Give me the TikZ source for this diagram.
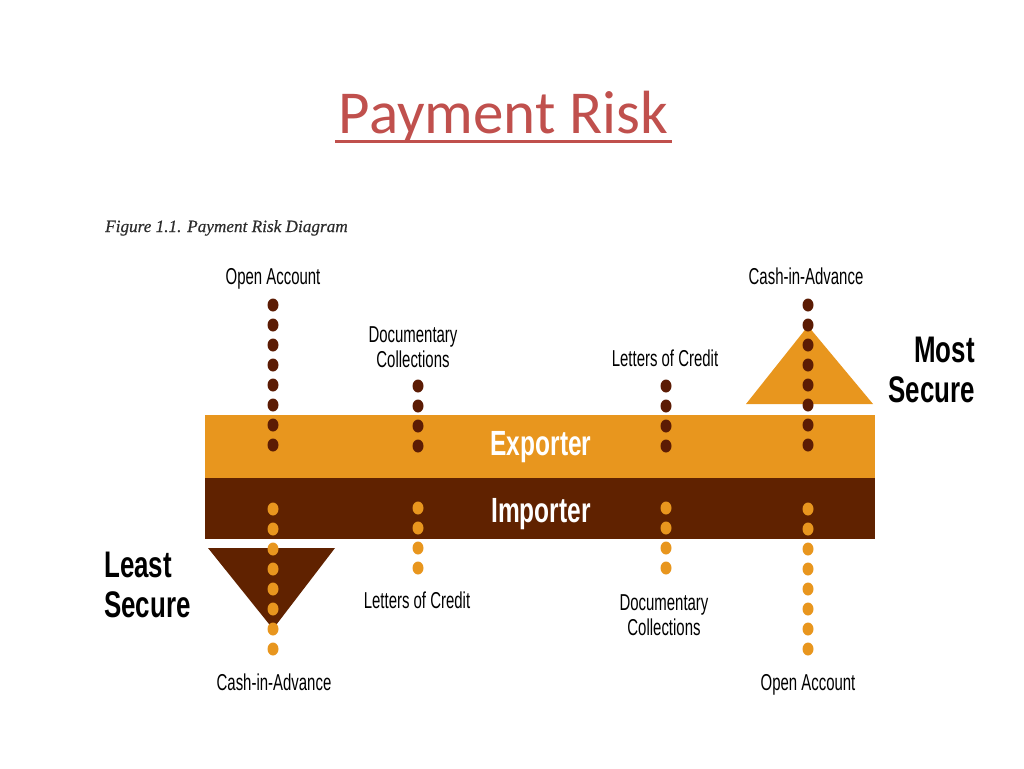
\documentclass[tikz,border=0pt]{standalone}
\usepackage{fontspec}
\setmainfont{Liberation Sans}
\newfontfamily\titlefont{Carlito}
\newfontfamily\capfont[FakeBold=0.5]{Liberation Serif}
\newfontfamily\condfont[FakeStretch=0.65]{Liberation Sans}
\newfontfamily\condbold[FakeStretch=0.7]{Liberation Sans}
\definecolor{orng}{RGB}{232,150,30}
\definecolor{brwn}{RGB}{96,34,0}
\definecolor{dotbr}{RGB}{92,28,4}
\definecolor{titlered}{RGB}{192,80,77}
\definecolor{capgray}{RGB}{45,45,45}
\tikzset{
  lbl/.style={inner sep=0pt, anchor=base, align=center, font=\condfont\fontsize{23}{25}\selectfont, text=black},
  big/.style={inner sep=0pt, font=\condbold\bfseries\fontsize{37}{40}\selectfont, text=black},
  bartext/.style={inner sep=0pt, anchor=base, font=\condbold\bfseries\fontsize{35}{40}\selectfont, text=white},
  topdot/.style={fill=dotbr},
  botdot/.style={fill=orng}
}
\begin{document}
\begin{tikzpicture}[x=1pt,y=-1pt]
\useasboundingbox (0,0) rectangle (1024,768);
% title
\node[inner sep=0pt, anchor=base, text=titlered, font=\titlefont\fontsize{61}{70}\selectfont] (title) at (503.5,133) {Payment Risk};
\fill[titlered] (335,139.5) rectangle (672,142.5);
% caption
\node[inner sep=0pt, anchor=base west, text=capgray, font=\capfont\itshape\fontsize{17.2}{20}\selectfont] (cap) at (105,232) {Figure 1.1. Payment Risk Diagram};
% bars
\fill[orng] (205,415) rectangle (875,478.5);
\fill[brwn] (205,478) rectangle (875,539);
\node[bartext] (exp) at (541,455) {Exporter};
\node[bartext] (imp) at (541,522) {Importer};
% triangles
\fill[orng] (808,326) -- (873,404) -- (746,404) -- cycle;
\fill[brwn] (208,548) -- (335,548) -- (273,629) -- cycle;
% dots top (brown)
\foreach \x/\ys in {273/{305,325,345,365,385,405,425,445}, 418/{386,406,426,446}, 666/{386,406,426,446}, 808/{305,325,345,365,385,405,425,445}}{
  \foreach \y in \ys { \fill[topdot] (\x,\y) ellipse [x radius=5.5pt, y radius=6.5pt]; }
}
% dots bottom (orange)
\foreach \x/\ys in {273/{509,529,549,569,589,609,629,649}, 418/{508,528,548,568}, 666/{508,528,548,568}, 808/{509,529,549,569,589,609,629,649}}{
  \foreach \y in \ys { \fill[botdot] (\x,\y) ellipse [x radius=5.5pt, y radius=6.5pt]; }
}
% labels top
\node[lbl] (oa1) at (273,284) {Open Account};
\node[lbl] (dc1) at (413,367) {Documentary\\Collections};
\node[lbl] (lc1) at (665,366) {Letters of Credit};
\node[lbl] (ca1) at (806,284) {Cash-in-Advance};
% labels bottom
\node[lbl] (ca2) at (274,690) {Cash-in-Advance};
\node[lbl] (lc2) at (417,608) {Letters of Credit};
\node[lbl] (dc2) at (664,635) {Documentary\\Collections};
\node[lbl] (oa2) at (808,690) {Open Account};
% security labels
\node[big, anchor=base east, align=right] (most) at (975,402) {Most\\Secure};
\node[big, anchor=base west, align=left] (least) at (104,617) {Least\\Secure};
\end{tikzpicture}
\end{document}
